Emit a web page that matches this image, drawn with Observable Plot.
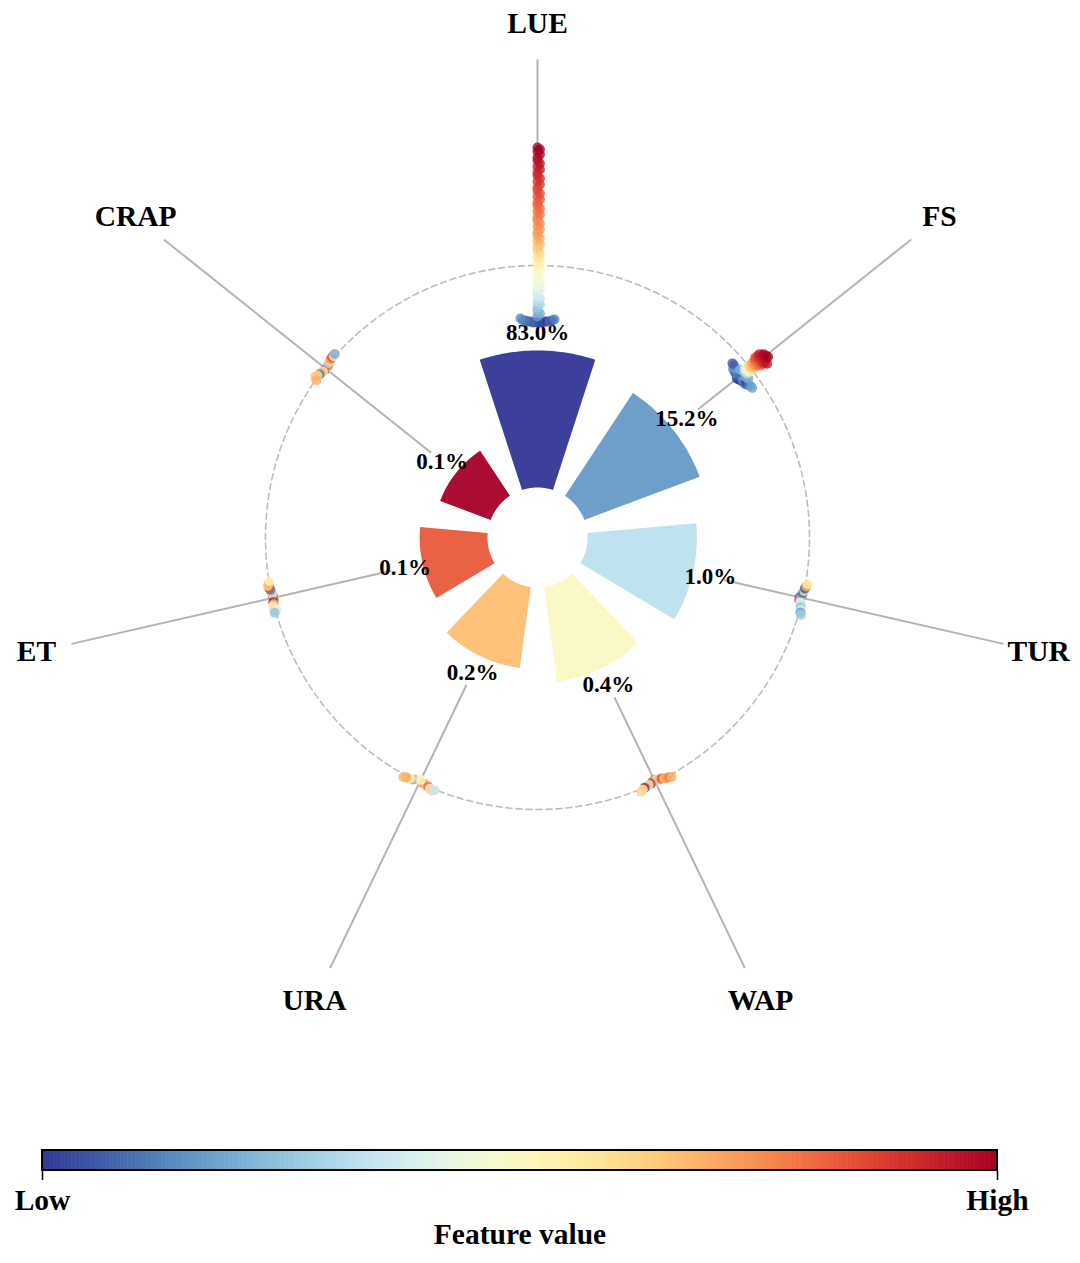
<!DOCTYPE html>
<html><head><meta charset="utf-8">
<script src="https://cdn.jsdelivr.net/npm/d3@7"></script>
<script src="https://cdn.jsdelivr.net/npm/@observablehq/plot@0.6"></script>
<style>body{margin:0;background:#fff} svg{display:block}</style>
</head><body><div id="chart"></div>
<script>
// ---------- data ----------
const features = ["LUE","FS","TUR","WAP","URA","ET","CRAP"];
const importance = [83.0, 15.2, 1.0, 0.4, 0.2, 0.1, 0.1];

const lueShap = [-0.57,-0.57,-0.57,-0.57,-0.57,-0.56,-0.56,-0.56,-0.56,-0.56,-0.55,-0.55,-0.55,-0.54,-0.53,
  -0.51,-0.48,-0.45,-0.42,-0.39,-0.36,-0.33,-0.30,-0.27,-0.24,-0.21,-0.18,-0.15,-0.12,-0.09,-0.06,-0.03,
  0.00,0.03,0.06,0.09,0.12,0.15,0.18,0.21,0.24,0.27,0.30,0.33,0.36,0.39,0.42,0.45,0.48,0.51,0.54,0.57,
  0.60,0.63,0.66,0.69,0.72,0.75,0.78,0.81,0.84,0.87,0.90,0.93,0.96,0.99,1.02,1.05,1.08,1.11,1.14,1.16,1.18];
const lueValue = [0.03,0.01,0.05,0.02,0.06,0.04,0.08,0.00,0.07,0.09,0.10,0.05,0.11,0.12,0.14,
  0.17,0.20,0.23,0.26,0.29,0.32,0.35,0.37,0.39,0.41,0.43,0.45,0.46,0.47,0.48,0.49,0.50,
  0.52,0.54,0.56,0.58,0.60,0.62,0.64,0.66,0.68,0.70,0.71,0.72,0.73,0.74,0.75,0.76,0.77,0.78,0.79,0.80,
  0.81,0.82,0.83,0.84,0.85,0.86,0.87,0.88,0.89,0.90,0.91,0.92,0.93,0.94,0.95,0.96,0.97,0.98,0.99,1.00,1.00];

const fsShap = [-0.17,-0.16,-0.16,-0.15,-0.15,-0.15,-0.14,-0.14,-0.14,-0.14,-0.13,-0.13,-0.13,-0.13,-0.13,
  -0.12,-0.12,-0.12,-0.12,-0.12,-0.11,-0.11,-0.11,-0.11,-0.10,-0.10,-0.10,-0.09,-0.09,-0.08,
  -0.07,-0.06,-0.05,-0.04,-0.03,-0.02,-0.01,0.00,0.01,0.02,
  0.03,0.04,0.05,0.06,0.07,0.08,0.08,0.09,0.10,0.10,0.11,0.12,0.12,0.13,0.13,0.14,0.14,0.15,0.15,0.16,0.16,0.17,0.18,0.19,0.20,0.21];
const fsValue = [0.02,0.05,0.00,0.08,0.03,0.11,0.06,0.01,0.09,0.13,0.04,0.10,0.07,0.15,0.12,
  0.05,0.14,0.02,0.17,0.09,0.11,0.16,0.06,0.19,0.13,0.20,0.08,0.18,0.22,0.21,
  0.28,0.33,0.38,0.43,0.48,0.52,0.56,0.60,0.63,0.66,
  0.68,0.70,0.72,0.74,0.76,0.78,0.79,0.80,0.82,0.83,0.84,0.86,0.87,0.88,0.89,0.90,0.91,0.92,0.93,0.94,0.95,0.96,0.97,0.98,0.99,1.00];

const turShap = [-0.03,-0.03,-0.02,-0.02,-0.01,-0.01,-0.01,0.00,0.00,0.00,0.00,0.01,0.01,0.01,0.02,0.02];
const turValue = [0.95,0.90,0.15,0.30,0.20,0.50,0.10,0.35,0.60,0.25,0.05,0.40,0.70,0.18,0.55,0.28];

const wapShap = [-0.03,-0.02,-0.02,-0.02,-0.01,-0.01,-0.01,-0.01,0.00,0.00,0.00,0.01,0.01,0.01,0.02,0.02];
const wapValue = [0.75,0.60,0.80,0.35,0.90,0.70,0.55,0.85,0.30,0.65,0.95,0.72,0.50,0.78,0.62,0.68];

const uraShap = [-0.02,-0.02,-0.01,-0.01,-0.01,0.00,0.00,0.00,0.00,0.01,0.01,0.01,0.02,-0.03,0.02,0.00];
const uraValue = [0.55,0.45,0.70,0.60,0.75,0.20,0.65,0.50,0.80,0.58,0.40,0.72,0.62,0.48,0.68,0.35];

const etShap = [-0.02,-0.01,-0.01,-0.01,0.00,0.00,0.00,0.00,0.01,0.01,0.01,0.02,-0.02,0.00,0.01,-0.01];
const etValue = [0.60,0.90,0.15,0.55,0.95,0.30,0.65,0.10,0.45,0.85,0.58,0.62,0.40,0.70,0.25,0.52];

const crapShap = [-0.02,-0.02,-0.01,-0.01,-0.01,0.00,0.00,0.00,0.00,0.01,0.01,0.01,0.02,0.00,-0.01,0.01];
const crapValue = [0.72,0.60,0.15,0.80,0.55,0.30,0.68,0.62,0.10,0.75,0.58,0.85,0.65,0.45,0.70,0.20];

const shapByFeature = [lueShap, fsShap, turShap, wapShap, uraShap, etShap, crapShap];
const valueByFeature = [lueValue, fsValue, turValue, wapValue, uraValue, etValue, crapValue];

// ---------- layout helpers ----------
const serif = "'Liberation Serif','Times New Roman',serif";
const n = features.length;
const step = 2 * Math.PI / n;
const angleOf = i => i * step;
const barWidth = step * 0.7;
const innerR = 50;
const rankRadius = d3.scaleLinear().domain([0, n - 1]).range([187, 104]);
const shapRadius = d3.scaleLinear().domain([0, 1]).range([272, 372]);
const lineEndR = 478, nameR = 514;
const swarmBin = [0.05, 0.03, 0.05, 0.05, 0.05, 0.05, 0.05];
const polar = (r, a) => [r * Math.sin(a), r * Math.cos(a)];
const colorOpts = {type: "linear", scheme: "RdYlBu", reverse: true, domain: [0, 1]};

// bars (annular sectors)
const barPts = [];
features.forEach((f, i) => {
  const a0 = angleOf(i) - barWidth / 2, a1 = angleOf(i) + barWidth / 2, ro = rankRadius(i);
  const K = 40;
  for (let k = 0; k <= K; k++) { const [x, y] = polar(ro, a0 + (a1 - a0) * k / K); barPts.push({f, x, y, t: i / (n - 1)}); }
  for (let k = K; k >= 0; k--) { const [x, y] = polar(innerR, a0 + (a1 - a0) * k / K); barPts.push({f, x, y, t: i / (n - 1)}); }
});

// zero circle
const circlePts = d3.range(0, 361, 1).map(d => { const [x, y] = polar(shapRadius(0), d * Math.PI / 180); return {x, y}; });

// spokes
const spokes = features.map((f, i) => {
  const a = angleOf(i);
  const [x1, y1] = polar(rankRadius(i) + 32, a);
  const [x2, y2] = polar(lineEndR, a);
  return {f, x1, y1, x2, y2};
});

// percentage labels
const pctLabels = features.map((f, i) => {
  const [x, y] = polar(rankRadius(i) + 18, angleOf(i));
  return {x, y, text: importance[i].toFixed(1) + "%"};
});

// feature names
const nameLabels = features.map((f, i) => {
  const [x, y] = polar(nameR, angleOf(i));
  return {x, y, text: f};
});

// beeswarm dots
const dots = [];
features.forEach((f, i) => {
  const shap = shapByFeature[i], val = valueByFeature[i];
  const bin = swarmBin[i], spread = 17;
  const q = shap.map(s => Math.round(s / bin) + 0);
  const idx = d3.range(shap.length).sort((a, b) => q[a] - q[b] || a - b);
  const off = new Array(shap.length);
  let layer = 0, last = null;
  for (const j of idx) {
    if (q[j] !== last) layer = 0;
    off[j] = Math.ceil(layer / 2) * ((layer % 2) * 2 - 1);
    layer++; last = q[j];
  }
  const m = d3.max(off, Math.abs) || 1;
  const a = angleOf(i);
  shap.forEach((s, j) => {
    const r = shapRadius(s), o = off[j] * spread / m;
    dots.push({f, v: val[j], x: r * Math.sin(a) + o * Math.cos(a), y: r * Math.cos(a) - o * Math.sin(a)});
  });
});

const main = Plot.plot({
  width: 1080, height: 1120, margin: 0,
  x: {domain: [-537, 543], axis: null},
  y: {domain: [-583, 537], axis: null},
  color: colorOpts,
  style: {fontFamily: serif, background: "white"},
  marks: [
    Plot.line(circlePts, {x: "x", y: "y", stroke: "#bdbdbd", strokeWidth: 1.6, strokeDasharray: "6,4"}),
    Plot.line(barPts, {x: "x", y: "y", z: "f", fill: "t", stroke: "none", fillOpacity: 0.95, curve: "linear-closed"}),
    Plot.link(spokes, {x1: "x1", y1: "y1", x2: "x2", y2: "y2", stroke: "#b3b3b3", strokeWidth: 2}),
    Plot.text(pctLabels, {x: "x", y: "y", text: "text", fontSize: 23, fontWeight: "bold", fontFamily: serif, fill: "black"}),
    Plot.dot(dots, {x: "x", y: "y", fill: "v", r: 5, fillOpacity: 0.8, stroke: "none"}),
    Plot.text(nameLabels, {x: "x", y: "y", text: "text", fontSize: 29.5, fontWeight: "bold", fontFamily: serif, fill: "black"})
  ]
});

// colorbar
const ramp = d3.range(256).map(k => ({x1: k / 256, x2: (k + 1) / 256, t: (k + 0.5) / 256}));
const bar = Plot.plot({
  width: 1080, height: 143, margin: 0,
  x: {domain: [0, 1], range: [42, 997], axis: null},
  y: {domain: [0, 143], range: [0, 143], axis: null},
  color: colorOpts,
  style: {fontFamily: serif, background: "white"},
  marks: [
    Plot.rect(ramp, {x1: "x1", x2: "x2", y1: 30, y2: 50, fill: "t", stroke: "t", strokeWidth: 0.6}),
    Plot.rect([0], {x1: 0, x2: 1, y1: 30, y2: 50, fill: "none", stroke: "black", strokeWidth: 2}),
    Plot.ruleX([0, 1], {y1: 50, y2: 60, stroke: "black", strokeWidth: 1.5}),
    Plot.text(["Low", "High"], {x: [0, 1], y: [80, 80], text: d => d, fontSize: 29.5, fontWeight: "bold", fontFamily: serif, fill: "black"}),
    Plot.text(["Feature value"], {x: [0.5], y: [114], text: d => d, fontSize: 29.5, fontWeight: "bold", fontFamily: serif, fill: "black"})
  ]
});

const el = document.getElementById("chart");
el.appendChild(main);
el.appendChild(bar);
</script>
</body></html>
